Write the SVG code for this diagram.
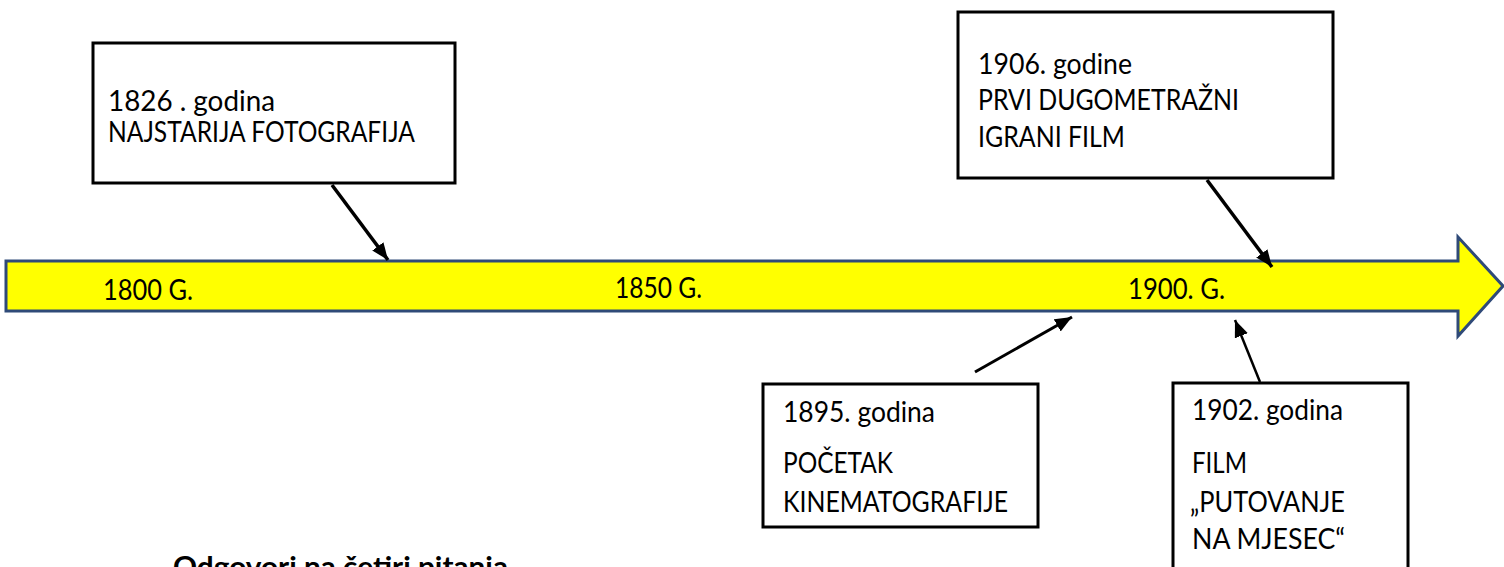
<svg xmlns="http://www.w3.org/2000/svg" width="1504" height="567" viewBox="0 0 1504 567">
<style>
.box{fill:#ffffff;stroke:#000000;stroke-width:3}
.t{font-family:Lato,"Liberation Sans",Arial,sans-serif;font-size:28px;fill:#000000}
.lbl{font-family:Lato,"Liberation Sans",Arial,sans-serif;font-size:28px;fill:#000000}
.b{font-family:Lato,"Liberation Sans",Arial,sans-serif;font-size:28px;font-weight:bold;fill:#000000}
.con{stroke:#000000;fill:none}
</style>
<defs>
<marker id="ah" markerUnits="userSpaceOnUse" markerWidth="18" markerHeight="14" refX="17" refY="7" orient="auto">
<path d="M0,0 L17,7 L0,14 z" fill="#000000"/>
</marker>
</defs>
<rect width="1504" height="567" fill="#ffffff"/>
<g id="timeline">
<polygon points="6,261 1458,261 1458,237 1503,286 1458,336 1458,311 6,311" fill="#ffff00" stroke="#2f4a78" stroke-width="3" stroke-linejoin="miter"/>
<text class="lbl" x="103" y="300" textLength="90" lengthAdjust="spacingAndGlyphs">1800 G.</text>
<text class="lbl" x="615" y="298" textLength="87" lengthAdjust="spacingAndGlyphs">1850 G.</text>
<text class="lbl" x="1128" y="299" textLength="97" lengthAdjust="spacingAndGlyphs">1900. G.</text>
</g>
<g id="connectors">
<line class="con" x1="332" y1="185" x2="388" y2="260" stroke-width="3.5" marker-end="url(#ah)"/>
<line class="con" x1="1207" y1="180" x2="1272" y2="267" stroke-width="3.5" marker-end="url(#ah)"/>
<line class="con" x1="975" y1="372" x2="1072" y2="317" stroke-width="3" marker-end="url(#ah)"/>
<line class="con" x1="1260" y1="382" x2="1235" y2="320" stroke-width="2.5" marker-end="url(#ah)"/>
</g>
<g id="node1826">
<rect class="box" x="93" y="43" width="362" height="140"/>
<text class="t" x="108" y="111" textLength="167" lengthAdjust="spacingAndGlyphs">1826 . godina</text>
<text class="t" x="108" y="142" textLength="307" lengthAdjust="spacingAndGlyphs">NAJSTARIJA FOTOGRAFIJA</text>
</g>
<g id="node1906">
<rect class="box" x="958" y="12" width="375" height="166"/>
<text class="t" x="978" y="74" textLength="154" lengthAdjust="spacingAndGlyphs">1906. godine</text>
<text class="t" x="978" y="110" textLength="261" lengthAdjust="spacingAndGlyphs">PRVI DUGOMETRAŽNI</text>
<text class="t" x="978" y="147" textLength="147" lengthAdjust="spacingAndGlyphs">IGRANI FILM</text>
</g>
<g id="node1895">
<rect class="box" x="763" y="384" width="275" height="143"/>
<text class="t" x="783" y="422" textLength="152" lengthAdjust="spacingAndGlyphs">1895. godina</text>
<text class="t" x="783" y="473" textLength="110" lengthAdjust="spacingAndGlyphs">POČETAK</text>
<text class="t" x="783" y="512" textLength="225" lengthAdjust="spacingAndGlyphs">KINEMATOGRAFIJE</text>
</g>
<g id="node1902">
<rect class="box" x="1173" y="383" width="235" height="200"/>
<text class="t" x="1192" y="420" textLength="151" lengthAdjust="spacingAndGlyphs">1902. godina</text>
<text class="t" x="1192" y="473" textLength="55" lengthAdjust="spacingAndGlyphs">FILM</text>
<text class="t" x="1190" y="512" textLength="155" lengthAdjust="spacingAndGlyphs">„PUTOVANJE</text>
<text class="t" x="1192" y="549" textLength="153" lengthAdjust="spacingAndGlyphs">NA MJESEC“</text>
</g>
<g id="question">
<text class="b" x="173" y="577" textLength="335" lengthAdjust="spacingAndGlyphs">Odgovori na četiri pitanja</text>
</g>
</svg>
